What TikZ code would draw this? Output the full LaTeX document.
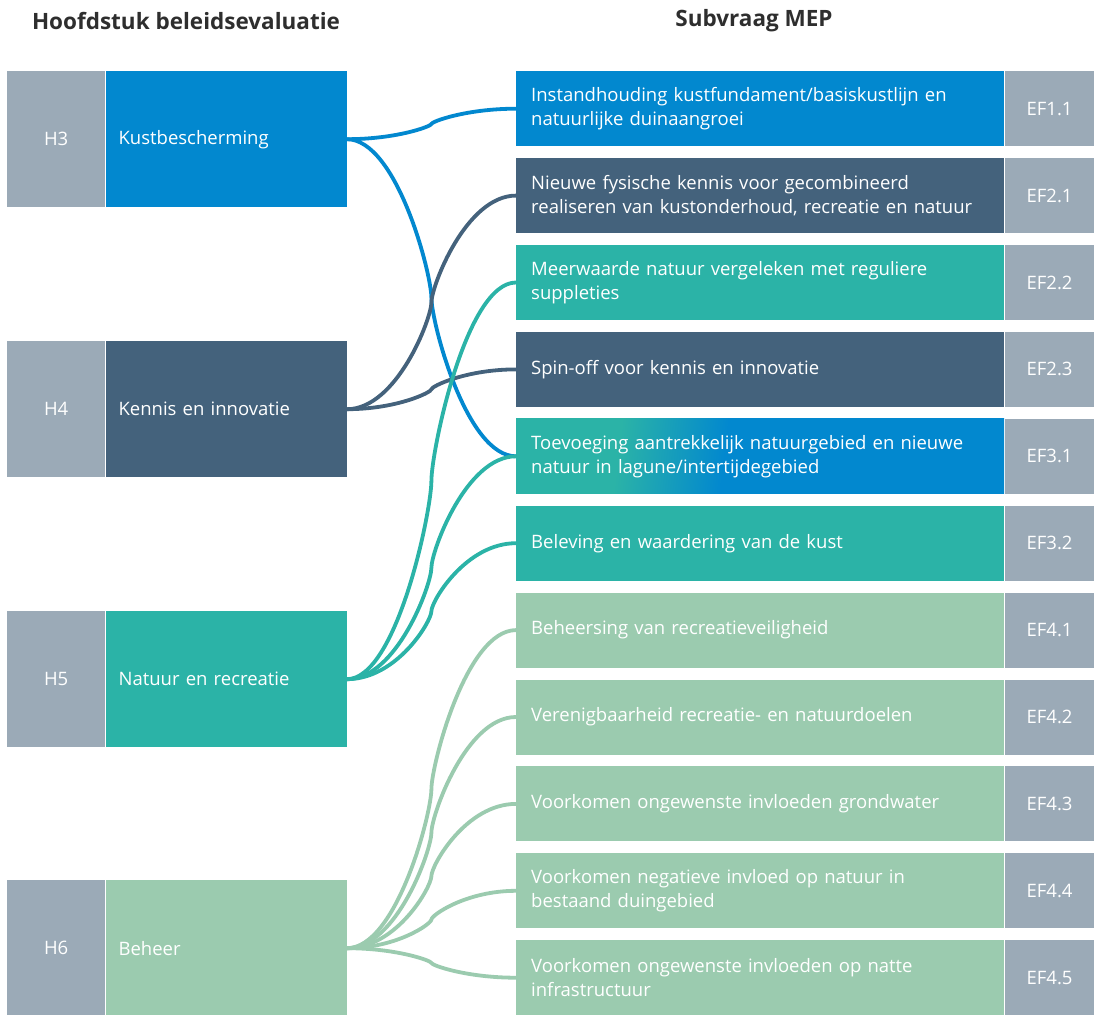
\documentclass[tikz,border=0pt]{standalone}
\usepackage{fontspec}
\setmainfont{Open Sans}
\usetikzlibrary{positioning,calc}

\definecolor{kblue}{HTML}{0288CF}
\definecolor{kdark}{HTML}{44627C}
\definecolor{kteal}{HTML}{2BB3A7}
\definecolor{kgreen}{HTML}{9BCBAF}
\definecolor{kgrey}{HTML}{9BAAB7}
\definecolor{khead}{HTML}{2E2E2E}

\pgfdeclarehorizontalshading{natblue}{100bp}{color(0bp)=(kteal); color(34bp)=(kteal); color(46bp)=(kblue); color(100bp)=(kblue)}

\tikzset{
  heading/.style={text=khead, font=\fontsize{22.5}{27}\selectfont\bfseries},
  hcode/.style={fill=kgrey, text=white, anchor=north west, minimum width=98pt, minimum height=136pt, inner sep=0pt, font=\fontsize{18.5}{24}\selectfont},
  hbox/.style={text=white, minimum height=136pt, inner xsep=13pt, inner ysep=0pt, text width=215pt, align=left, font=\fontsize{18.5}{24}\selectfont},
  qbox/.style={text=white, anchor=north west, minimum height=75pt, inner xsep=15pt, inner ysep=0pt, text width=458pt, align=left, font=\fontsize{18.5}{24}\selectfont},
  qcode/.style={fill=kgrey, text=white, minimum width=90pt, minimum height=75pt, inner sep=0pt, font=\fontsize{18.5}{24}\selectfont},
  conn/.style={line width=3.8pt},
  link/.style={to path={let \p1=(\tikztostart), \p2=(\tikztotarget) in
    .. controls (\x1+50pt,\y1) and (\x1/2+\x2/2,\y1*.575+\y2*.425) .. (\x1/2+\x2/2,\y1/2+\y2/2)
    .. controls (\x1/2+\x2/2,\y1*.425+\y2*.575) and (\x2-50pt,\y2) .. (\tikztotarget)}}
}

\begin{document}
\begin{tikzpicture}[x=1pt,y=1pt]
\useasboundingbox (0,0) rectangle (1094,-1014);

% titles
\node[heading] (t1) at (186,-21) {Hoofdstuk beleidsevaluatie};
\node[heading] (t2) at (754,-21) {Subvraag MEP};

% chapters
\node[hcode] (h3c) at (7,-71) {H3};
\node[hbox,fill=kblue,right=0pt of h3c] (h3) {Kustbescherming};
\node[hcode] (h4c) at (7,-341) {H4};
\node[hbox,fill=kdark,right=0pt of h4c] (h4) {Kennis en innovatie};
\node[hcode] (h5c) at (7,-611) {H5};
\node[hbox,fill=kteal,right=0pt of h5c] (h5) {Natuur en recreatie};
\node[hcode] (h6c) at (7,-880) {H6};
\node[hbox,fill=kgreen,right=0pt of h6c] (h6) {Beheer};

% sub-questions
\node[qbox,fill=kblue] (ef11) at (516,-71) {Instandhouding kustfundament/basiskustlijn en\\natuurlijke duinaangroei};
\node[qcode,right=0pt of ef11] (ef11c) {EF1.1};
\node[qbox,fill=kdark] (ef21) at (516,-157.9) {Nieuwe fysische kennis voor gecombineerd\\realiseren van kustonderhoud, recreatie en natuur};
\node[qcode,right=0pt of ef21] (ef21c) {EF2.1};
\node[qbox,fill=kteal] (ef22) at (516,-244.8) {Meerwaarde natuur vergeleken met reguliere\\suppleties};
\node[qcode,right=0pt of ef22] (ef22c) {EF2.2};
\node[qbox,fill=kdark] (ef23) at (516,-331.7) {Spin-off voor kennis en innovatie};
\node[qcode,right=0pt of ef23] (ef23c) {EF2.3};
\node[qbox,shade,shading=natblue,shading angle=-7] (ef31) at (516,-418.6) {Toevoeging aantrekkelijk natuurgebied en nieuwe\\natuur in lagune/intertijdegebied};
\node[qcode,right=0pt of ef31] (ef31c) {EF3.1};
\node[qbox,fill=kteal] (ef32) at (516,-505.5) {Beleving en waardering van de kust};
\node[qcode,right=0pt of ef32] (ef32c) {EF3.2};
\node[qbox,fill=kgreen] (ef41) at (516,-592.4) {Beheersing van recreatieveiligheid};
\node[qcode,right=0pt of ef41] (ef41c) {EF4.1};
\node[qbox,fill=kgreen] (ef42) at (516,-679.3) {Verenigbaarheid recreatie- en natuurdoelen};
\node[qcode,right=0pt of ef42] (ef42c) {EF4.2};
\node[qbox,fill=kgreen] (ef43) at (516,-766.2) {Voorkomen ongewenste invloeden grondwater};
\node[qcode,right=0pt of ef43] (ef43c) {EF4.3};
\node[qbox,fill=kgreen] (ef44) at (516,-853.1) {Voorkomen negatieve invloed op natuur in\\bestaand duingebied};
\node[qcode,right=0pt of ef44] (ef44c) {EF4.4};
\node[qbox,fill=kgreen] (ef45) at (516,-940) {Voorkomen ongewenste invloeden op natte\\infrastructuur};
\node[qcode,right=0pt of ef45] (ef45c) {EF4.5};

% links H6
\path[draw=kgreen,conn] (h6.east) to[link] (ef41.west);
\path[draw=kgreen,conn] (h6.east) to[link] (ef42.west);
\path[draw=kgreen,conn] (h6.east) to[link] (ef43.west);
\path[draw=kgreen,conn] (h6.east) to[link] (ef44.west);
\path[draw=kgreen,conn] (h6.east) to[link] (ef45.west);

% links H3
\path[draw=kblue,conn] (h3.east) to[link] (ef11.west);
\path[draw=kblue,conn] (h3.east) to[link] (ef31.west);

% links H4
\path[draw=kdark,conn] (h4.east) to[link] (ef21.west);
\path[draw=kdark,conn] (h4.east) to[link] (ef23.west);

% links H5
\path[draw=kteal,conn] (h5.east) to[link] (ef22.west);
\path[draw=kteal,conn] (h5.east) to[link] (ef31.west);
\path[draw=kteal,conn] (h5.east) to[link] (ef32.west);
\end{tikzpicture}
\end{document}
